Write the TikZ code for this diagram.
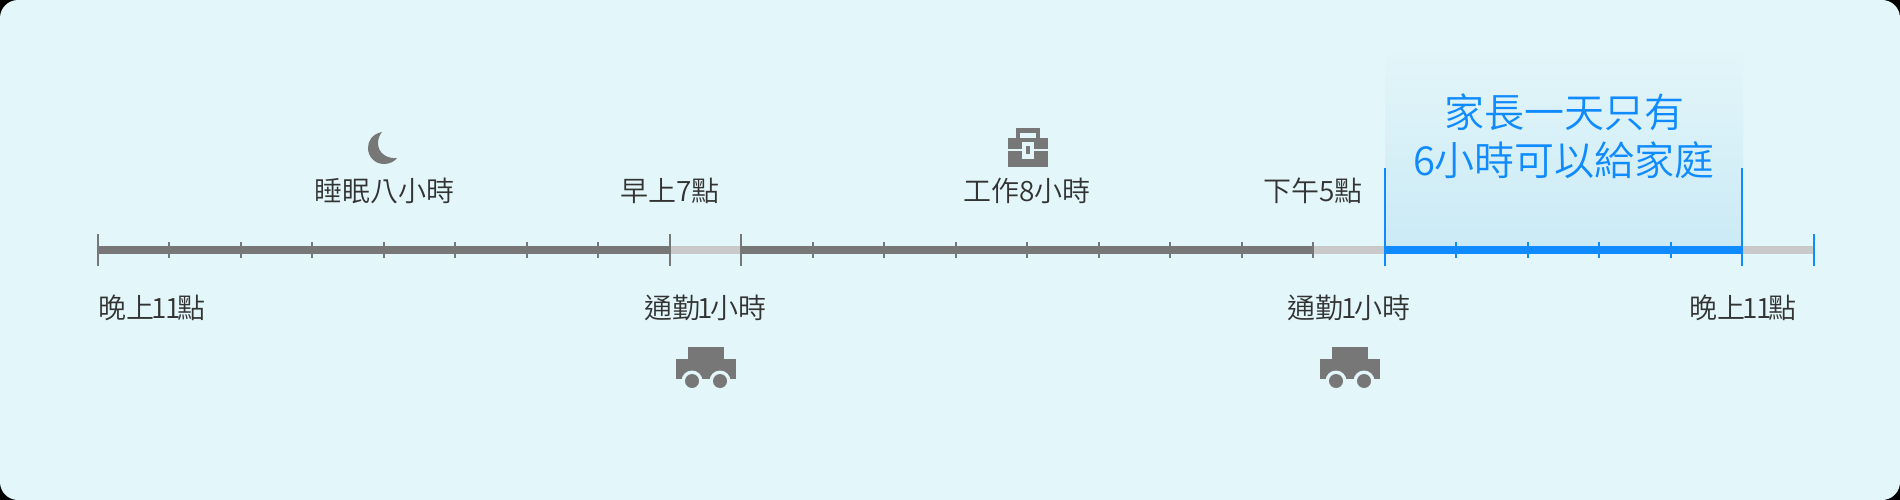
\documentclass[tikz,border=0pt]{standalone}
\usepackage{fontspec}
\usepackage{xcolor}
\usetikzlibrary{calc}
\setmainfont{Noto Sans CJK TC DemiLight}

\definecolor{bgcol}{HTML}{E3F6F9}
\definecolor{panelcol}{HTML}{CBEAF6}
\definecolor{darkbar}{HTML}{777777}
\definecolor{lightbar}{HTML}{C9C9C9}
\definecolor{bluebar}{HTML}{0F8BFF}
\definecolor{labelcol}{HTML}{333333}

\newcommand{\narrowone}{\kern-2.5pt 1\kern-2.5pt}
\newcommand{\narrowtwo}{\kern-3pt 1\kern-1pt 1\kern-3pt}

\tikzset{
  bar/.style={line width=8pt},
  tickmark/.style={line width=2pt},
  label/.style={font=\fontsize{28}{34}\selectfont, text=labelcol, inner sep=0pt},
  bluelabel/.style={font=\fontsize{40}{48}\selectfont, text=bluebar, inner sep=0pt, align=center},
  icon/.style={fill=darkbar}
}

\begin{document}
\begin{tikzpicture}[x=1pt,y=-1pt]
\useasboundingbox (0,0) rectangle (1900,500);
% Card
\fill[black] (0,0) rectangle (1900,500);
\fill[bgcol, rounded corners=18pt] (0,0) rectangle (1900,500);

% One coordinate per hour
\foreach \i in {0,...,24} {
    \coordinate (h\i) at ({97.5+71.5*\i},250);
}

% Family time panel
\shade[top color=bgcol, bottom color=panelcol] (1385,45) rectangle (1743,250);

% Bar
\draw[bar, darkbar] (h0) -- (h8);
\draw[bar, lightbar] (h8) -- (h9);
\draw[bar, darkbar] (h9) -- (h17);
\draw[bar, lightbar] (h17) -- (h18);
\draw[bar, bluebar] (h18) -- (h23);
\draw[bar, lightbar] (h23) -- (h24);

% Ticks
\foreach \i in {1,...,7,10,11,...,17} {
    \draw[tickmark, darkbar] ($(h\i)+(0,-8)$) -- ($(h\i)+(0,8)$);
}
\foreach \i in {0,8,9} {
    \draw[tickmark, darkbar] ($(h\i)+(0,-16)$) -- ($(h\i)+(0,16)$);
}
\foreach \i in {19,...,22} {
    \draw[tickmark, bluebar] ($(h\i)+(0,-8)$) -- ($(h\i)+(0,8)$);
}
\foreach \i in {18,23} {
    \draw[tickmark, bluebar] ($(h\i)+(0,-82)$) -- ($(h\i)+(0,16)$);
}
\draw[tickmark, bluebar] ($(h24)+(0,-16)$) -- ($(h24)+(0,16)$);

% Labels above
\node[label] (sleep) at (384,191) {睡眠八小時};
\node[label] (morning) at (670,191) {早上7點};
\node[label] (work) at (1027,191) {工作8小時};
\node[label] (afternoon) at (1313,191) {下午5點};

% Labels below
\node[label, anchor=west] (nightstart) at (98,308) {晚上\narrowtwo 點};
\node[label] (commutea) at (705.5,308) {通勤\narrowone 小時};
\node[label] (commuteb) at (1349,308) {通勤\narrowone 小時};
\node[label] (nightend) at (1743,308) {晚上\narrowtwo 點};

% Blue text
\node[bluelabel] (family) at (1564,136) {家長一天只有\\6小時可以給家庭};

% Moon
\fill[icon] (382,132) .. controls (372,134) and (368,141) .. (368,148)
    .. controls (368,157) and (375,164) .. (384,164)
    .. controls (389,164) and (394,162) .. (397,158)
    .. controls (388,159) and (378,154) .. (378,143)
    .. controls (378,139) and (379.5,135) .. (382,132) -- cycle;

% Briefcase
\fill[icon] (1016,128) rectangle (1040,138);
\fill[bgcol] (1020,133) rectangle (1036,138);
\fill[icon] (1008,138) rectangle (1048,167);
\fill[bgcol] (1008,148.5) rectangle (1048,150.5);
\fill[bgcol] (1022,142) rectangle (1034,159);
\fill[icon] (1026,146) rectangle (1030,154);

% Cars
\foreach \c in {706,1350} {
    \fill[icon] (\c-18,347) rectangle (\c+18,359);
    \fill[icon] (\c-30,359) rectangle (\c+30,379);
    \fill[bgcol] (\c-14,381) circle (10.5);
    \fill[bgcol] (\c+14,381) circle (10.5);
    \fill[icon] (\c-14,381) circle (7);
    \fill[icon] (\c+14,381) circle (7);
}
\end{tikzpicture}
\end{document}
